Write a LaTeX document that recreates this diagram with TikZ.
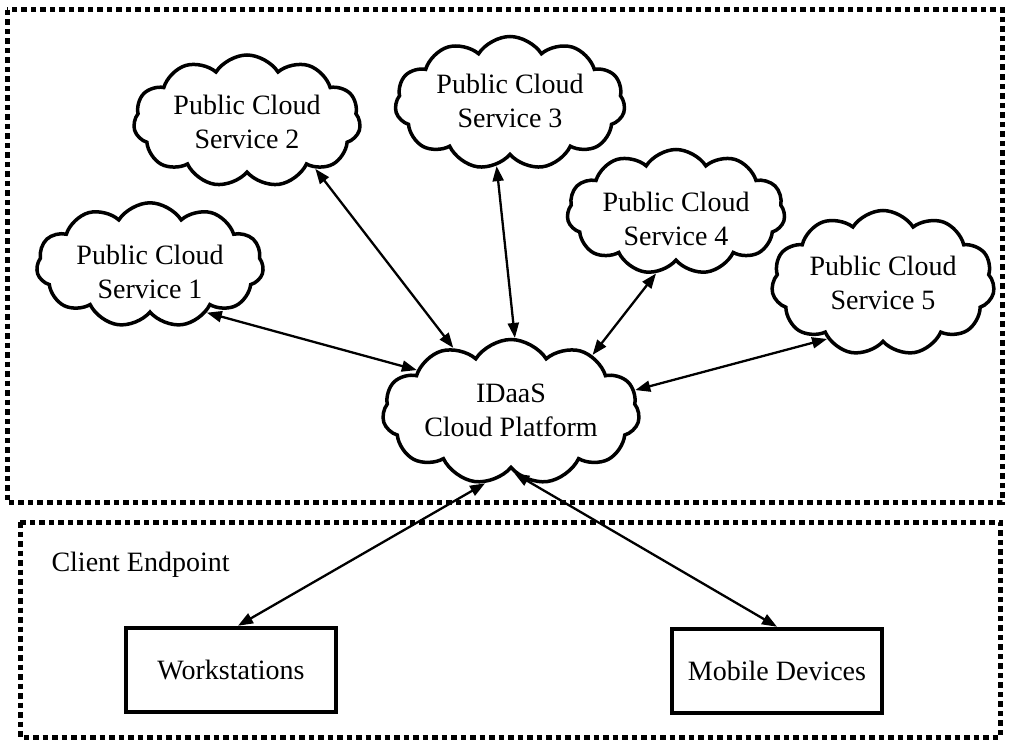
\documentclass[tikz,border=0pt]{standalone}
\usepackage{fontspec}
\setmainfont{Liberation Serif}
\usetikzlibrary{shapes.symbols,arrows.meta,calc}
\newcommand\lowtext[2]{\raisebox{-#1}[\height][\depth]{\begin{tabular}{@{}c@{}}#2\end{tabular}}}
\begin{document}
\begin{tikzpicture}[x=1pt,y=-1pt,
  txt/.style={font=\fontsize{28}{34}\selectfont, align=center},
  cld/.style={cloud, cloud puffs=11, cloud puff arc=115, cloud ignores aspect, draw, line width=3.5pt, inner sep=0pt, txt},
  dotbox/.style={draw, line width=5pt, dash pattern=on 5.5pt off 4pt},
  plainbox/.style={draw, line width=4.5pt, minimum width=210pt, minimum height=84pt, txt},
  arr/.style={line width=2.3pt, {Triangle[length=15pt,width=11pt]}-{Triangle[length=15pt,width=11pt]}}
]
\useasboundingbox (0,0) rectangle (1014,746);
\draw[dotbox] (7,10) rectangle (1002,502);
\draw[dotbox] (20,522) rectangle (1000,737);

\node[cld, minimum width=227pt, minimum height=120pt] (c1) at (150,265) {\lowtext{10pt}{Public Cloud\\Service 1}};
\node[cld, minimum width=227pt, minimum height=132pt] (c2) at (247,121) {\lowtext{4pt}{Public Cloud\\Service 2}};
\node[cld, minimum width=230pt, minimum height=133pt] (c3) at (510,103) {\lowtext{1pt}{Public Cloud\\Service 3}};
\node[cld, minimum width=218pt, minimum height=125pt] (c4) at (676,212) {\lowtext{10pt}{Public Cloud\\Service 4}};
\node[cld, minimum width=223pt, minimum height=145pt] (c5) at (883,283) {\lowtext{3pt}{Public Cloud\\Service 5}};
\node[cld, minimum width=257pt, minimum height=145pt] (id) at (511,412) {\lowtext{1pt}{IDaaS\\Cloud Platform}};

\node[txt, anchor=west] (ce) at (48,565) {Client Endpoint};
\node[plainbox] (ws) at (231,670) {Workstations};
\node[plainbox] (mob) at (777,671) {Mobile Devices};

\draw[arr] (c1.-40) -- (id.156);
\draw[arr] (c2.-35) -- (id.132);
\draw[arr] (c3.-102) -- (id.87);
\draw[arr] (c4.-108) -- (id.35);
\draw[arr] (c5.-135) -- (id.10);
\draw[arr] (id.-110) -- (ws.81);
\draw[arr] (id.-87) -- (mob.north);
\end{tikzpicture}
\end{document}
